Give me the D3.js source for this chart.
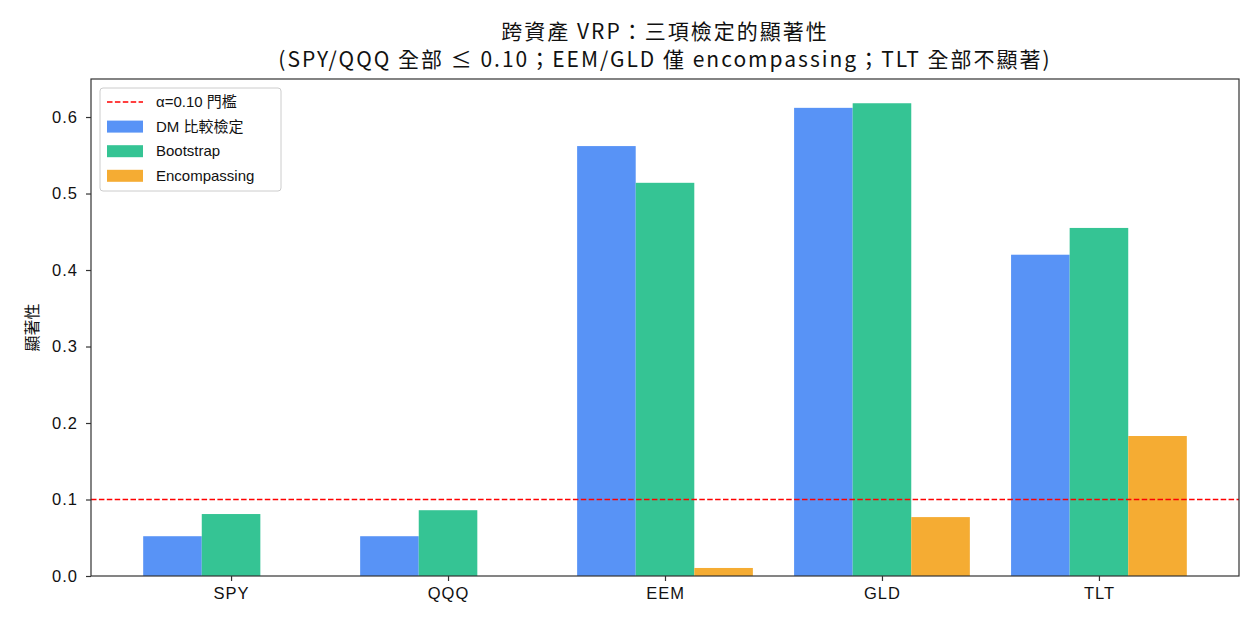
<!DOCTYPE html>
<html>
<head>
<meta charset="utf-8">
<script src="https://cdn.jsdelivr.net/npm/d3@7"></script>
<style>
  body { margin: 0; background: #fff; }
  svg text { font-family: "Liberation Sans", "Noto Sans CJK TC", sans-serif; fill: #111; }
  svg text.title { font-family: "Noto Sans CJK TC", sans-serif; letter-spacing: 2px; }
  .tick text { letter-spacing: 1px; }
</style>
</head>
<body>
<div id="chart"></div>
<script>
const assets = ["SPY", "QQQ", "EEM", "GLD", "TLT"];
const dmValues = [0.052, 0.052, 0.562, 0.612, 0.420];
const bootValues = [0.081, 0.086, 0.514, 0.618, 0.455];
const encValues = [0.0, 0.0, 0.0105, 0.077, 0.183];
const seriesNames = ["DM 比較檢定", "Bootstrap", "Encompassing"];
const yTicks = [0.0, 0.1, 0.2, 0.3, 0.4, 0.5, 0.6];
const alpha = 0.10;

const colors = ["#5893f6", "#35c494", "#f5ac33"];
const width = 1260, height = 630;
const margin = {top: 79, right: 21, bottom: 54, left: 91};
const barW = 0.27;

const svg = d3.select("#chart").append("svg")
  .attr("width", width)
  .attr("height", height);

const x = d3.scaleLinear()
  .domain([-0.6455, assets.length - 1 + 0.6455])
  .range([margin.left, width - margin.right]);

const y = d3.scaleLinear()
  .domain([0, 0.6497])
  .range([height - margin.bottom, margin.top]);

const series = [dmValues, bootValues, encValues];

// bars
series.forEach((vals, s) => {
  svg.append("g").selectAll("rect")
    .data(vals)
    .join("rect")
    .attr("x", (d, i) => x(i + (s - 1) * barW - barW / 2))
    .attr("width", x(barW) - x(0))
    .attr("y", d => y(d))
    .attr("height", d => y(0) - y(d))
    .attr("fill", colors[s]);
});

// threshold line
svg.append("line")
  .attr("x1", margin.left).attr("x2", width - margin.right)
  .attr("y1", y(alpha)).attr("y2", y(alpha))
  .attr("stroke", "#ff0000")
  .attr("stroke-width", 1.5)
  .attr("stroke-dasharray", "5.5,2.4");

// axes
const xAxis = d3.axisBottom(x)
  .tickValues(d3.range(assets.length))
  .tickFormat(i => assets[i])
  .tickSize(5).tickPadding(6);
const yAxis = d3.axisLeft(y)
  .tickValues(yTicks)
  .tickFormat(d3.format(".1f"))
  .tickSize(5).tickPadding(8);

svg.append("g")
  .attr("transform", `translate(0,${height - margin.bottom})`)
  .call(xAxis)
  .call(g => g.select(".domain").remove())
  .call(g => g.selectAll("text").style("font-size", "16.5px").attr("fill", "#111"));

svg.append("g")
  .attr("transform", `translate(${margin.left},0)`)
  .call(yAxis)
  .call(g => g.select(".domain").remove())
  .call(g => g.selectAll("text").style("font-size", "16.5px").attr("fill", "#111"));

svg.selectAll(".tick line").attr("stroke", "#333").attr("stroke-width", 1.2);

// frame
svg.append("rect")
  .attr("x", margin.left).attr("y", margin.top)
  .attr("width", width - margin.left - margin.right)
  .attr("height", height - margin.top - margin.bottom)
  .attr("fill", "none")
  .attr("stroke", "#333")
  .attr("stroke-width", 1.2);

// y label
svg.append("text")
  .attr("transform", `translate(38,${(margin.top + height - margin.bottom) / 2}) rotate(-90)`)
  .attr("text-anchor", "middle")
  .style("font-size", "16px")
  .text("顯著性");

// title
const cx = (margin.left + width - margin.right) / 2;
svg.append("text")
  .attr("class", "title")
  .attr("x", cx).attr("y", 39)
  .attr("text-anchor", "middle")
  .style("font-size", "21px")
  .text("跨資產 VRP：三項檢定的顯著性");
svg.append("text")
  .attr("class", "title")
  .attr("x", cx).attr("y", 67)
  .attr("text-anchor", "middle")
  .style("font-size", "21px")
  .text("(SPY/QQQ 全部 ≤ 0.10；EEM/GLD 僅 encompassing；TLT 全部不顯著)");

// legend
const legend = svg.append("g").attr("transform", "translate(100,88)");
legend.append("rect")
  .attr("width", 181).attr("height", 103)
  .attr("rx", 3)
  .attr("fill", "#fff").attr("fill-opacity", 0.85)
  .attr("stroke", "#ccc");

const legendRows = [{label: "α=0.10 門檻", type: "line"}]
  .concat(seriesNames.map((n, i) => ({label: n, type: "rect", color: colors[i]})));

const rows = legend.selectAll("g.item")
  .data(legendRows)
  .join("g")
  .attr("class", "item")
  .attr("transform", (d, i) => `translate(0,${14 + i * 24.6})`);

rows.filter(d => d.type === "line").append("line")
  .attr("x1", 7).attr("x2", 43)
  .attr("stroke", "#ff0000").attr("stroke-width", 1.5)
  .attr("stroke-dasharray", "5.5,2.4");

rows.filter(d => d.type === "rect").append("rect")
  .attr("x", 7).attr("y", -6)
  .attr("width", 36).attr("height", 12)
  .attr("fill", d => d.color);

rows.append("text")
  .attr("x", 56).attr("y", 5)
  .style("font-size", "15px")
  .text(d => d.label);
</script>
</body>
</html>
